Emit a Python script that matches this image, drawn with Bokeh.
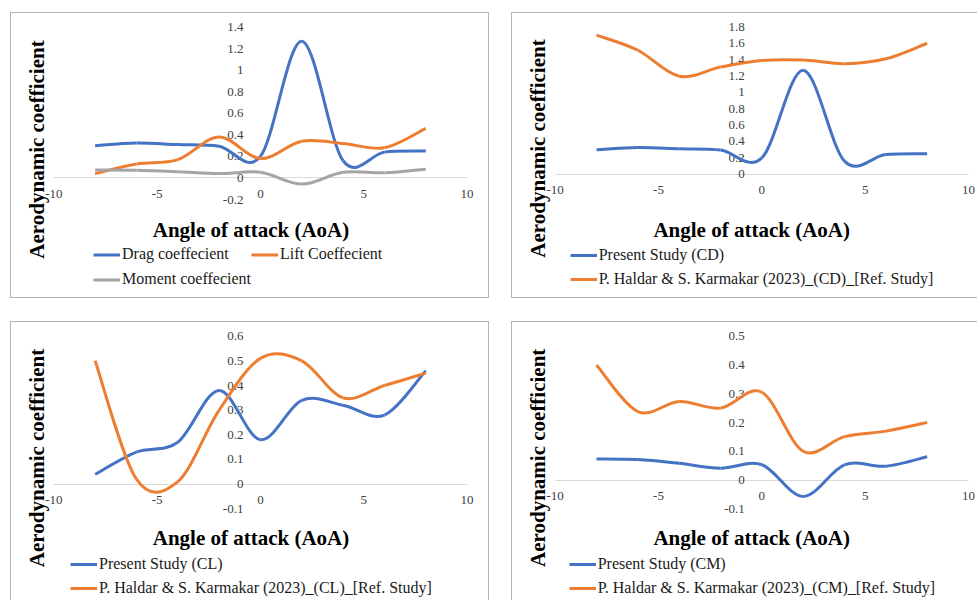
from bokeh.plotting import figure
from bokeh.models import Range1d, FixedTicker, Label, Legend, LegendItem, ColumnDataSource
from bokeh.layouts import column, row
from bokeh.embed import file_html
from bokeh.resources import INLINE

# ---------------- data ----------------
aoa = [-8, -6, -4, -2, 0, 2, 4, 6, 8]

cd_present = [0.30, 0.325, 0.31, 0.295, 0.20, 1.27, 0.16, 0.24, 0.25]
cl_present = [0.04, 0.13, 0.17, 0.38, 0.18, 0.34, 0.32, 0.28, 0.46]
cm_present = [0.073, 0.071, 0.058, 0.041, 0.053, -0.057, 0.053, 0.048, 0.081]

cd_ref = [1.70, 1.515, 1.197, 1.31, 1.39, 1.395, 1.35, 1.41, 1.60]
cl_ref = [0.50, 0.02, 0.01, 0.30, 0.51, 0.50, 0.35, 0.40, 0.45]
cm_ref = [0.40, 0.238, 0.273, 0.25, 0.305, 0.10, 0.151, 0.17, 0.20]

x_ticks = [-10, -5, 0, 5, 10]
x_tick_labels = ["-10", "-5", "0", "5", "10"]

y_ticks_all = [-0.2, 0, 0.2, 0.4, 0.6, 0.8, 1, 1.2, 1.4]
y_labels_all = ["-0.2", "0", "0.2", "0.4", "0.6", "0.8", "1", "1.2", "1.4"]
y_ticks_cd = [0, 0.2, 0.4, 0.6, 0.8, 1, 1.2, 1.4, 1.6, 1.8]
y_labels_cd = ["0", "0.2", "0.4", "0.6", "0.8", "1", "1.2", "1.4", "1.6", "1.8"]
y_ticks_cl = [-0.1, 0, 0.1, 0.2, 0.3, 0.4, 0.5, 0.6]
y_labels_cl = ["-0.1", "0", "0.1", "0.2", "0.3", "0.4", "0.5", "0.6"]
y_ticks_cm = [-0.1, 0, 0.1, 0.2, 0.3, 0.4, 0.5]
y_labels_cm = ["-0.1", "0", "0.1", "0.2", "0.3", "0.4", "0.5"]

names_all = ["Drag coeffecient", "Lift Coeffecient", "Moment coeffecient"]
names_cd = ["Present Study (CD)", "P. Haldar & S. Karmakar (2023)_(CD)_[Ref. Study]"]
names_cl = ["Present Study (CL)", "P. Haldar & S. Karmakar (2023)_(CL)_[Ref. Study]"]
names_cm = ["Present Study (CM)", "P. Haldar & S. Karmakar (2023)_(CM)_[Ref. Study]"]

BLUE, ORANGE, GREY = "#4472C4", "#ED7D31", "#A5A5A5"
FRAME = "#b4b4b4"
SERIF = "Liberation Serif"


def smooth_segments(x, y):
    """Excel-like smoothed line: cubic Bezier segments through the points."""
    n = len(x)
    d = dict(x0=[], y0=[], x1=[], y1=[], cx0=[], cy0=[], cx1=[], cy1=[])
    for i in range(n - 1):
        ip, inn = max(i - 1, 0), min(i + 2, n - 1)
        d["x0"].append(x[i]); d["y0"].append(y[i])
        d["x1"].append(x[i + 1]); d["y1"].append(y[i + 1])
        d["cx0"].append(x[i] + (x[i + 1] - x[ip]) / 6.0)
        d["cy0"].append(y[i] + (y[i + 1] - y[ip]) / 6.0)
        d["cx1"].append(x[i + 1] - (x[inn] - x[i]) / 6.0)
        d["cy1"].append(y[i + 1] - (y[inn] - y[i]) / 6.0)
    return ColumnDataSource(d)


def make_panel(width, height, area, yr, yticks, ylabels, series, names,
               shadow, ytitle_pos, xtitle_pos, legend_loc, ncols, spacing=4, gh=20):
    # area = (left, top, plot width, plot height) of the data region in pixels
    L, T, PW, PH = area
    xs = 20.0 / PW
    ys = (yr[1] - yr[0]) / PH
    x_range = Range1d(-10 - L * xs, 10 + (width - L - PW) * xs)
    y_range = Range1d(yr[0] - (height - T - PH) * ys, yr[1] + T * ys)
    p = figure(width=width, height=height, output_backend="svg", toolbar_location=None,
               x_range=x_range, y_range=y_range, min_border=0,
               min_border_left=0, min_border_right=0, min_border_top=0, min_border_bottom=0)
    p.border_fill_color = None
    p.background_fill_color = None
    p.outline_line_color = None
    p.grid.visible = False
    p.styles = {"box-shadow": shadow}

    xa = p.xaxis[0]
    xa.fixed_location = 0
    xa.bounds = (-10, 10)
    xa.ticker = FixedTicker(ticks=x_ticks, minor_ticks=[])
    xa.major_label_overrides = dict(zip(x_ticks, x_tick_labels))
    xa.axis_line_color = "#d9d9d9"
    xa.axis_line_width = 1
    xa.major_tick_line_color = None
    xa.minor_tick_line_color = None
    xa.major_label_standoff = 6

    ya = p.yaxis[0]
    ya.fixed_location = 0
    ya.ticker = FixedTicker(ticks=yticks, minor_ticks=[])
    ya.major_label_overrides = dict(zip(yticks, ylabels))
    ya.axis_line_color = None
    ya.major_tick_line_color = None
    ya.minor_tick_line_color = None
    ya.major_label_standoff = 11

    for ax in (xa, ya):
        ax.level = "underlay"
        ax.major_label_text_font = SERIF
        ax.major_label_text_font_size = "13px"
        ax.major_label_text_color = "#404040"

    items = []
    for (yv, col), name in zip(series, names):
        r = p.bezier(x0="x0", y0="y0", x1="x1", y1="y1", cx0="cx0", cy0="cy0",
                     cx1="cx1", cy1="cy1", source=smooth_segments(aoa, yv),
                     line_color=col, line_width=3)
        items.append(LegendItem(label=name, renderers=[r]))

    legend = Legend(items=items, location=legend_loc, orientation="horizontal", ncols=ncols,
                    padding=0, margin=0, spacing=spacing, glyph_width=27, glyph_height=gh,
                    label_height=gh, label_standoff=2, label_text_font=SERIF,
                    label_text_font_size="16px", label_text_color="#1a1a1a",
                    border_line_color=None, background_fill_alpha=0)
    p.add_layout(legend)

    p.add_layout(Label(x=ytitle_pos[0], y=height - ytitle_pos[1], x_units="screen", y_units="screen",
                       text="Aerodynamic coefficient", angle=90, angle_units="deg",
                       text_align="center", text_baseline="middle", text_font=SERIF,
                       text_font_style="bold", text_font_size="21px", text_color="black"))
    p.add_layout(Label(x=xtitle_pos[0], y=height - xtitle_pos[1], x_units="screen", y_units="screen",
                       text="Angle of attack (AoA)", text_align="center",
                       text_baseline="middle", text_font=SERIF, text_font_style="bold",
                       text_font_size="21px", text_color="black"))
    return p


sh_full = f"inset 1px 0 0 0 {FRAME}, inset -1px 0 0 0 {FRAME}, inset 0 1px 0 0 {FRAME}, inset 0 -1px 0 0 {FRAME}"
sh_tr = f"inset 1px 0 0 0 {FRAME}, inset 0 1px 0 0 {FRAME}, inset 0 -1px 0 0 {FRAME}"
sh_bl = f"inset 1px 0 0 0 {FRAME}, inset -1px 0 0 0 {FRAME}, inset 0 1px 0 0 {FRAME}"
sh_br = f"inset 1px 0 0 0 {FRAME}, inset 0 1px 0 0 {FRAME}"

p1 = make_panel(479, 286, (43.3, 14.7, 413.3, 172.3), (-0.2, 1.4), y_ticks_all, y_labels_all,
                [(cd_present, BLUE), (cl_present, ORANGE), (cm_present, GREY)], names_all,
                sh_full, (26, 137), (240.5, 217), (83, 6.5), 2, spacing=-1, gh=25)
p2 = make_panel(466, 286, (43.7, 14.4, 413.3, 147.3), (0, 1.8), y_ticks_cd, y_labels_cd,
                [(cd_present, BLUE), (cd_ref, ORANGE)], names_cd,
                sh_tr, (26, 136), (240.2, 217), (58.7, 9.3), 1)
p3 = make_panel(479, 279, (43.3, 14.7, 413.3, 172.6), (-0.1, 0.6), y_ticks_cl, y_labels_cl,
                [(cl_present, BLUE), (cl_ref, ORANGE)], names_cl,
                sh_bl, (26, 136.5), (240.5, 216.7), (60, 2), 1)
p4 = make_panel(466, 279, (43.7, 14.7, 413.3, 172.6), (-0.1, 0.5), y_ticks_cm, y_labels_cm,
                [(cm_present, BLUE), (cm_ref, ORANGE)], names_cm,
                sh_br, (26, 136.3), (240.2, 216.7), (57.7, 2), 1)

layout = column(row(p1, p2, spacing=22), row(p3, p4, spacing=22), spacing=23, margin=(12, 0, 0, 10))

open("out.html", "w").write(file_html(layout, INLINE))
